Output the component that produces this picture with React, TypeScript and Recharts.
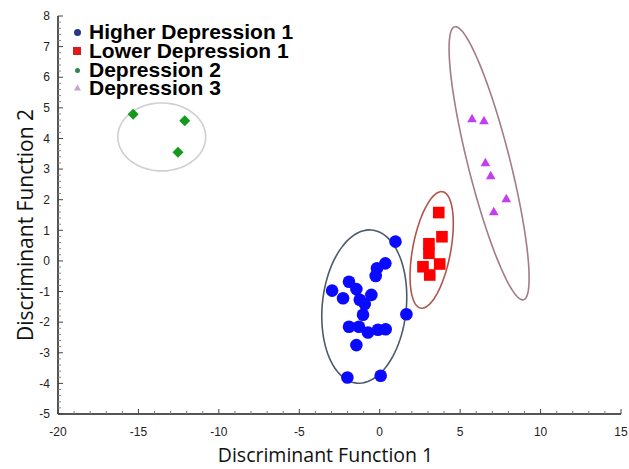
import React from 'react';
import { ScatterChart, Scatter, XAxis, YAxis, Legend } from 'recharts';

const W = 629;
const H = 469;

// Axis ticks (labelled majors + unlabelled minors)
const xMajorTicks = [-20, -15, -10, -5, 0, 5, 10, 15];
const yMajorTicks = [-5, -4, -3, -2, -1, 0, 1, 2, 3, 4, 5, 6, 7, 8];
const xAllTicks = Array.from({ length: 36 }, (_, i) => -20 + i);
const yAllTicks = Array.from({ length: 66 }, (_, i) => Math.round((-5 + i * 0.2) * 10) / 10);

// Series names
const seriesNames = ['Higher Depression 1', 'Lower Depression 1', 'Depression 2', 'Depression 3'];

// Higher Depression 1 (blue circles)
const higherX = [0.98, 0.35, -0.17, -0.25, -1.91, -2.96, -1.45, -2.28, -0.52, -1.24, -0.93, -1.04, 1.66, -1.91, -1.29, -0.73, -0.11, 0.37, -1.45, -2.01, 0.06];
const higherY = [0.63, -0.08, -0.24, -0.49, -0.68, -0.97, -0.92, -1.22, -1.11, -1.27, -1.41, -1.76, -1.74, -2.15, -2.15, -2.34, -2.25, -2.23, -2.75, -3.81, -3.75];

// Lower Depression 1 (red squares)
const lowerX = [3.67, 3.87, 3.06, 3.06, 2.69, 3.73, 3.11];
const lowerY = [1.58, 0.79, 0.56, 0.25, -0.19, -0.1, -0.46];

// Depression 2 (green diamonds)
const dep2X = [-15.33, -12.12, -12.54];
const dep2Y = [4.79, 4.58, 3.55];

// Depression 3 (magenta triangles)
const dep3X = [5.74, 6.48, 6.57, 6.9, 7.87, 7.09];
const dep3Y = [4.64, 4.58, 3.21, 2.78, 2.03, 1.61];

// Confidence ellipses: centre + two conjugate semi-axis vectors (data units)
const ellipseCx = [-0.96, 3.23, -13.55, 6.8];
const ellipseCy = [-1.49, 0.36, 4.05, 3.19];
const ellipseAx = [0.47, 0.68, 2.73, -2.14];
const ellipseAy = [2.5, 1.9, 0, 4.46];
const ellipseBx = [2.6, 1.16, 0, 1.27];
const ellipseBy = [-0.13, -0.115, 1.11, 0.167];
const ellipseColors = ['#4d5a6e', '#b0544e', '#cfcfcf', '#a47a8c'];

const zip = (xs: number[], ys: number[]) => xs.map((x, i) => ({ x, y: ys[i] }));

const ellipseData = (i: number) =>
  Array.from({ length: 97 }, (_, k) => {
    const t = (k / 96) * 2 * Math.PI;
    return {
      x: ellipseCx[i] + Math.cos(t) * ellipseAx[i] + Math.sin(t) * ellipseBx[i],
      y: ellipseCy[i] + Math.cos(t) * ellipseAy[i] + Math.sin(t) * ellipseBy[i],
    };
  });

const higherData = zip(higherX, higherY);
const lowerData = zip(lowerX, lowerY);
const dep2Data = zip(dep2X, dep2Y);
const dep3Data = zip(dep3X, dep3Y);

const Circle = (p: any) => <circle cx={p.cx} cy={p.cy} r={6.3} fill="#0a0aff" />;
const Square = (p: any) => <rect x={p.cx - 5.8} y={p.cy - 5.8} width={11.6} height={11.6} fill="#ff0000" />;
const Diamond = (p: any) => (
  <polygon
    points={`${p.cx},${p.cy - 5.5} ${p.cx + 5.5},${p.cy} ${p.cx},${p.cy + 5.5} ${p.cx - 5.5},${p.cy}`}
    fill="#15991c"
  />
);
const Triangle = (p: any) => (
  <polygon
    points={`${p.cx},${p.cy - 5} ${p.cx + 4.8},${p.cy + 3.5} ${p.cx - 4.8},${p.cy + 3.5}`}
    fill="#c43df0"
  />
);
const NoShape = () => <g />;

const legendMarkers = [
  (c: number) => <div style={{ position: 'absolute', left: 7 - 3.5, top: c - 3.5, width: 7, height: 7, borderRadius: '50%', background: '#26378a' }} />,
  (c: number) => <div style={{ position: 'absolute', left: 7 - 4, top: c - 4, width: 8, height: 8, background: '#e0191c' }} />,
  (c: number) => <div style={{ position: 'absolute', left: 7 - 2.5, top: c - 2.5, width: 5, height: 5, borderRadius: '50%', background: '#2a8a4a' }} />,
  (c: number) => (
    <svg style={{ position: 'absolute', left: 7 - 3.5, top: c - 3.5 }} width={7} height={7}>
      <polygon points="3.5,0.5 7,6.5 0,6.5" fill="#c9a2c9" />
    </svg>
  ),
];

const renderLegend = () => (
  <div style={{ fontFamily: '"Liberation Sans", Arial, sans-serif', fontWeight: 'bold', fontSize: 21, lineHeight: '18.7px', color: '#000' }}>
    {seriesNames.map((name, i) => (
      <div key={name} style={{ position: 'relative', height: 18.7, paddingLeft: 19, whiteSpace: 'nowrap' }}>
        {legendMarkers[i]([9.5, 8.6, 10, 8.5][i])}
        {name}
      </div>
    ))}
  </div>
);

const axisStroke = '#555';
const FONT = '"Liberation Sans", Arial, sans-serif';
const TM = 13; // bottom tick label gap
const LM = 8; // left tick label gap

const isMajor = (v: number) => Math.abs(v - Math.round(v)) < 1e-6;

const BottomTick = (p: any) => {
  const v = p.payload.value;
  const ay = p.y - TM;
  const major = xMajorTicks.includes(v);
  return (
    <g>
      <line x1={p.x} x2={p.x} y1={ay} y2={ay - (major ? 5 : 3)} stroke={major ? '#444' : '#777'} strokeWidth={1} />
      {major && (
        <text x={p.x} y={p.y} dy="0.71em" textAnchor="middle" fontSize={12} fill="#222" fontFamily={FONT}>
          {v}
        </text>
      )}
    </g>
  );
};

const TopTick = (p: any) => {
  const v = p.payload.value;
  const major = xMajorTicks.includes(v);
  return <line x1={p.x} x2={p.x} y1={p.y} y2={p.y + (major ? 5 : 3)} stroke={major ? '#444' : '#777'} strokeWidth={1} />;
};

const LeftTick = (p: any) => {
  const v = p.payload.value;
  const ax = p.x + LM;
  const major = isMajor(v) && yMajorTicks.includes(Math.round(v));
  return (
    <g>
      <line x1={ax} x2={ax + (major ? 5 : 3)} y1={p.y} y2={p.y} stroke={major ? '#444' : '#888'} strokeWidth={1} />
      {major && (
        <text x={p.x} y={p.y} dy="0.355em" textAnchor="end" fontSize={12} fill="#222" fontFamily={FONT}>
          {Math.round(v)}
        </text>
      )}
    </g>
  );
};

const RightTick = (p: any) => {
  const v = p.payload.value;
  const major = isMajor(v);
  return <line x1={p.x} x2={p.x - (major ? 5 : 3)} y1={p.y} y2={p.y} stroke={major ? '#444' : '#888'} strokeWidth={1} />;
};

const XTitle = (props: any) => {
  const vb = props.viewBox;
  return (
    <text x={vb.x + vb.width / 2 - 14} y={462} textAnchor="middle" fontSize={19.5} fill="#111" fontFamily='"Open Sans", sans-serif'>
      Discriminant Function 1
    </text>
  );
};
const YTitle = (props: any) => {
  const vb = props.viewBox;
  const cy = vb.y + vb.height / 2 + 10;
  return (
    <text x={33} y={cy} transform={`rotate(-90, 33, ${cy})`} textAnchor="middle" fontSize={21} fill="#111" fontFamily='"Open Sans", sans-serif'>
      Discriminant Function 2
    </text>
  );
};

export default function App() {
  return (
    <div style={{ position: 'absolute', left: 0, top: 0, width: W, height: H, background: '#fff' }}>
      <ScatterChart width={W} height={H} margin={{ top: 16, right: 8, left: 0, bottom: 0 }}>
        <XAxis
          xAxisId="b"
          type="number"
          dataKey="x"
          domain={[-20, 15]}
          allowDataOverflow
          ticks={xAllTicks}
          interval={0}
          height={55}
          axisLine={{ stroke: axisStroke, strokeWidth: 2 }}
          tickLine={false}
          tickSize={0}
          tickMargin={TM}
          tick={<BottomTick />}
          label={<XTitle />}
        />
        <XAxis
          xAxisId="t"
          orientation="top"
          type="number"
          dataKey="x"
          domain={[-20, 15]}
          allowDataOverflow
          ticks={xAllTicks}
          interval={0}
          height={0}
          axisLine={{ stroke: axisStroke, strokeWidth: 2 }}
          tickLine={false}
          tickSize={0}
          tickMargin={0}
          tick={<TopTick />}
        />
        <YAxis
          yAxisId="l"
          type="number"
          dataKey="y"
          domain={[-5, 8]}
          allowDataOverflow
          ticks={yAllTicks}
          interval={0}
          width={58}
          axisLine={{ stroke: axisStroke, strokeWidth: 2 }}
          tickLine={false}
          tickSize={0}
          tickMargin={LM}
          tick={<LeftTick />}
          label={<YTitle />}
        />
        <YAxis
          yAxisId="r"
          orientation="right"
          type="number"
          dataKey="y"
          domain={[-5, 8]}
          allowDataOverflow
          ticks={yAllTicks}
          interval={0}
          width={0}
          axisLine={{ stroke: axisStroke, strokeWidth: 2 }}
          tickLine={false}
          tickSize={0}
          tickMargin={0}
          tick={<RightTick />}
        />

        {ellipseColors.map((c, i) => (
          <Scatter
            key={'e' + i}
            xAxisId="b"
            yAxisId="l"
            data={ellipseData(i)}
            line={{ stroke: c, strokeWidth: 1.6 }}
            lineType="joint"
            shape={NoShape}
            legendType="none"
            isAnimationActive={false}
          />
        ))}

        <Scatter name={seriesNames[0]} xAxisId="b" yAxisId="l" data={higherData} shape={Circle} isAnimationActive={false} />
        <Scatter name={seriesNames[1]} xAxisId="b" yAxisId="l" data={lowerData} shape={Square} isAnimationActive={false} />
        <Scatter name={seriesNames[2]} xAxisId="b" yAxisId="l" data={dep2Data} shape={Diamond} isAnimationActive={false} />
        <Scatter name={seriesNames[3]} xAxisId="b" yAxisId="l" data={dep3Data} shape={Triangle} isAnimationActive={false} />

        <Legend
          layout="horizontal"
          verticalAlign="middle"
          align="center"
          content={renderLegend}
          wrapperStyle={{ position: 'absolute', left: 70, top: 23.4, width: 260, height: 76 }}
        />
      </ScatterChart>
    </div>
  );
}
